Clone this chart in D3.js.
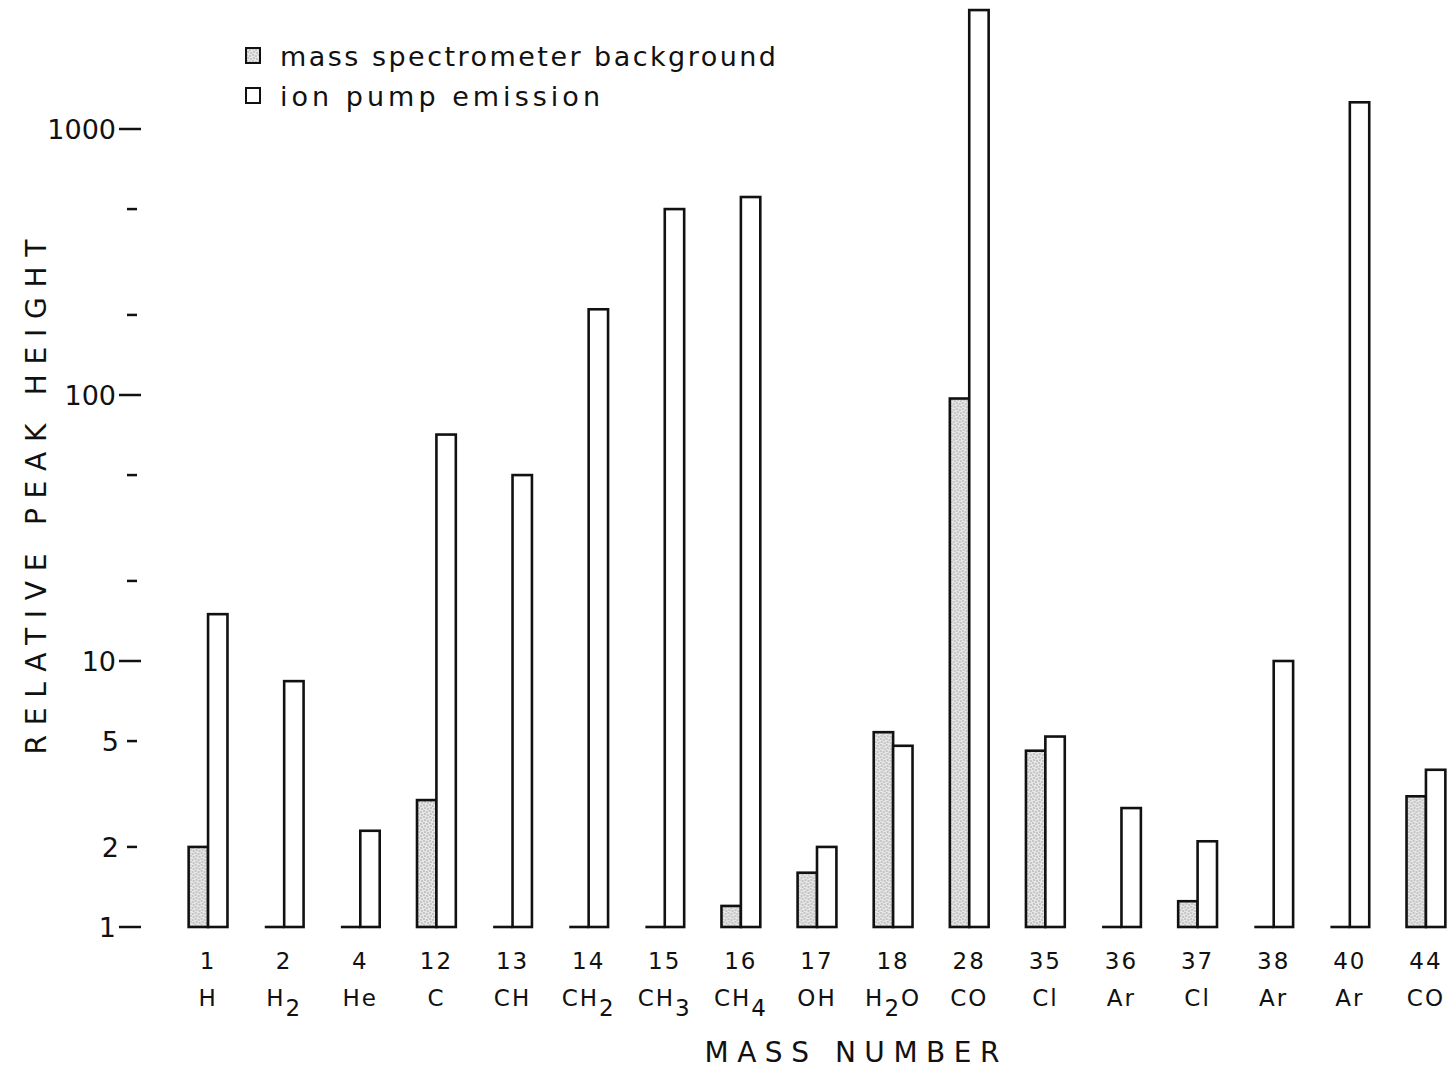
<!DOCTYPE html>
<html lang="en">
<head>
  <meta charset="UTF-8" />
  <title>Relative Peak Height</title>
  <script src="https://d3js.org/d3.v7.min.js"></script>
  <style>
    body { margin: 0; background: #fff; }
    svg { font-family: "DejaVu Sans", sans-serif; }
    .bar { stroke: #111; stroke-width: 2.6px; }
    .tick-label { font-size: 27px; fill: #111; }
    .cat-label { font-size: 23px; fill: #111; letter-spacing: 2px; }
    .title { font-size: 28px; fill: #111; }
  </style>
</head>
<body>
  <svg id="chart" width="1452" height="1071"></svg>

  <script>
    const masses = ["1", "2", "4", "12", "13", "14", "15", "16", "17", "18", "28", "35", "36", "37", "38", "40", "44"];
    const formulas = ["H", "H_2", "He", "C", "CH", "CH_2", "CH_3", "CH_4", "OH", "H_2O", "CO", "Cl", "Ar", "Cl", "Ar", "Ar", "CO"];
    // null = no background peak (drawn as a flat line)
    const background = [2.0, null, null, 3.0, null, null, null, 1.2, 1.6, 5.4, 97, 4.6, null, 1.25, null, null, 3.1];
    const ionPump = [15, 8.4, 2.3, 71, 50, 210, 500, 555, 2.0, 4.8, 2800, 5.2, 2.8, 2.1, 10, 1260, 3.9];
    const yTicks = [1, 2, 5, 10, 20, 50, 100, 200, 500, 1000];
    const yLabels = { 1: "1", 2: "2", 5: "5", 10: "10", 100: "100", 1000: "1000" };

    const svg = d3.select("#chart");

    const x = d3.scaleBand()
      .domain(masses)
      .range([170, 1464])
      .paddingInner(0.49)
      .paddingOuter(0.245);

    const x1 = d3.scaleBand()
      .domain(["bg", "ion"])
      .range([0, x.bandwidth()]);

    const y = d3.scaleLog()
      .domain([1, 1000])
      .range([927, 129]);

    // stipple for the background bars
    const pat = svg.append("defs").append("pattern")
      .attr("id", "stipple")
      .attr("width", 6).attr("height", 6)
      .attr("patternUnits", "userSpaceOnUse");
    pat.append("rect").attr("width", 6).attr("height", 6).attr("fill", "#e6e6e6");
    [[1, 1], [4, 2], [2, 4], [5, 5]].forEach(p => {
      pat.append("circle").attr("cx", p[0]).attr("cy", p[1]).attr("r", 0.7).attr("fill", "#8a8a8a");
    });

    const groups = svg.selectAll("g.group")
      .data(masses)
      .enter()
      .append("g")
      .attr("class", "group")
      .attr("transform", d => `translate(${x(d)},0)`);

    // background bars, then ion pump bars
    groups.each(function(d, i) {
      const g = d3.select(this);
      const v = background[i];
      if (v == null) {
        g.append("line")
          .attr("class", "bar")
          .attr("x1", x1("bg"))
          .attr("x2", x1("bg") + x1.bandwidth())
          .attr("y1", y(1))
          .attr("y2", y(1));
      } else {
        g.append("rect")
          .attr("class", "bar")
          .attr("x", x1("bg"))
          .attr("y", y(v))
          .attr("width", x1.bandwidth())
          .attr("height", y(1) - y(v))
          .attr("fill", "url(#stipple)");
      }
      g.append("rect")
        .attr("class", "bar")
        .attr("x", x1("ion"))
        .attr("y", y(ionPump[i]))
        .attr("width", x1.bandwidth())
        .attr("height", y(1) - y(ionPump[i]))
        .attr("fill", "#fff");
    });

    // category labels: mass number and formula
    masses.forEach((m, i) => {
      const cx = x(m) + x.bandwidth() / 2;
      svg.append("text")
        .attr("class", "cat-label")
        .attr("x", cx)
        .attr("y", 969)
        .attr("text-anchor", "middle")
        .text(m);

      const t = svg.append("text")
        .attr("class", "cat-label")
        .attr("x", cx)
        .attr("y", 1006)
        .attr("text-anchor", "middle");
      const parts = formulas[i].split(/(_\d)/).filter(s => s.length);
      let sub = false;
      parts.forEach(p => {
        if (p[0] === "_") {
          t.append("tspan").attr("dy", 10).text(p.slice(1));
          sub = true;
        } else {
          t.append("tspan").attr("dy", sub ? -10 : 0).text(p);
          sub = false;
        }
      });
    });

    // y axis ticks (no axis line)
    yTicks.forEach(v => {
      const major = [1, 10, 100, 1000].includes(v);
      svg.append("line")
        .attr("x1", major ? 119 : 127)
        .attr("x2", major ? 141 : 137)
        .attr("y1", y(v))
        .attr("y2", y(v))
        .attr("stroke", "#111")
        .attr("stroke-width", 2.5);
      if (yLabels[v]) {
        svg.append("text")
          .attr("class", "tick-label")
          .attr("x", major ? 116 : 119)
          .attr("y", y(v) + 10)
          .attr("text-anchor", "end")
          .text(yLabels[v]);
      }
    });

    // axis titles
    svg.append("text")
      .attr("class", "title")
      .attr("transform", "translate(46,497) rotate(-90)")
      .attr("text-anchor", "middle")
      .attr("textLength", 515)
      .attr("lengthAdjust", "spacing")
      .text("RELATIVE PEAK HEIGHT");

    svg.append("text")
      .attr("class", "title")
      .attr("x", 852)
      .attr("y", 1062)
      .attr("text-anchor", "middle")
      .attr("textLength", 295)
      .attr("lengthAdjust", "spacing")
      .text("MASS NUMBER");

    // legend
    const legend = [
      { label: "mass spectrometer background", fill: "url(#stipple)", y: 57, len: 496 },
      { label: "ion pump emission", fill: "#fff", y: 97, len: 320 }
    ];
    legend.forEach(l => {
      svg.append("rect")
        .attr("x", 246)
        .attr("y", l.y - 9)
        .attr("width", 14)
        .attr("height", 15)
        .attr("fill", l.fill)
        .attr("stroke", "#111")
        .attr("stroke-width", 2);
      svg.append("text")
        .attr("x", 280)
        .attr("y", l.y + 9)
        .attr("font-size", 27)
        .attr("fill", "#111")
        .attr("textLength", l.len)
        .attr("lengthAdjust", "spacing")
        .text(l.label);
    });
  </script>
</body>
</html>
